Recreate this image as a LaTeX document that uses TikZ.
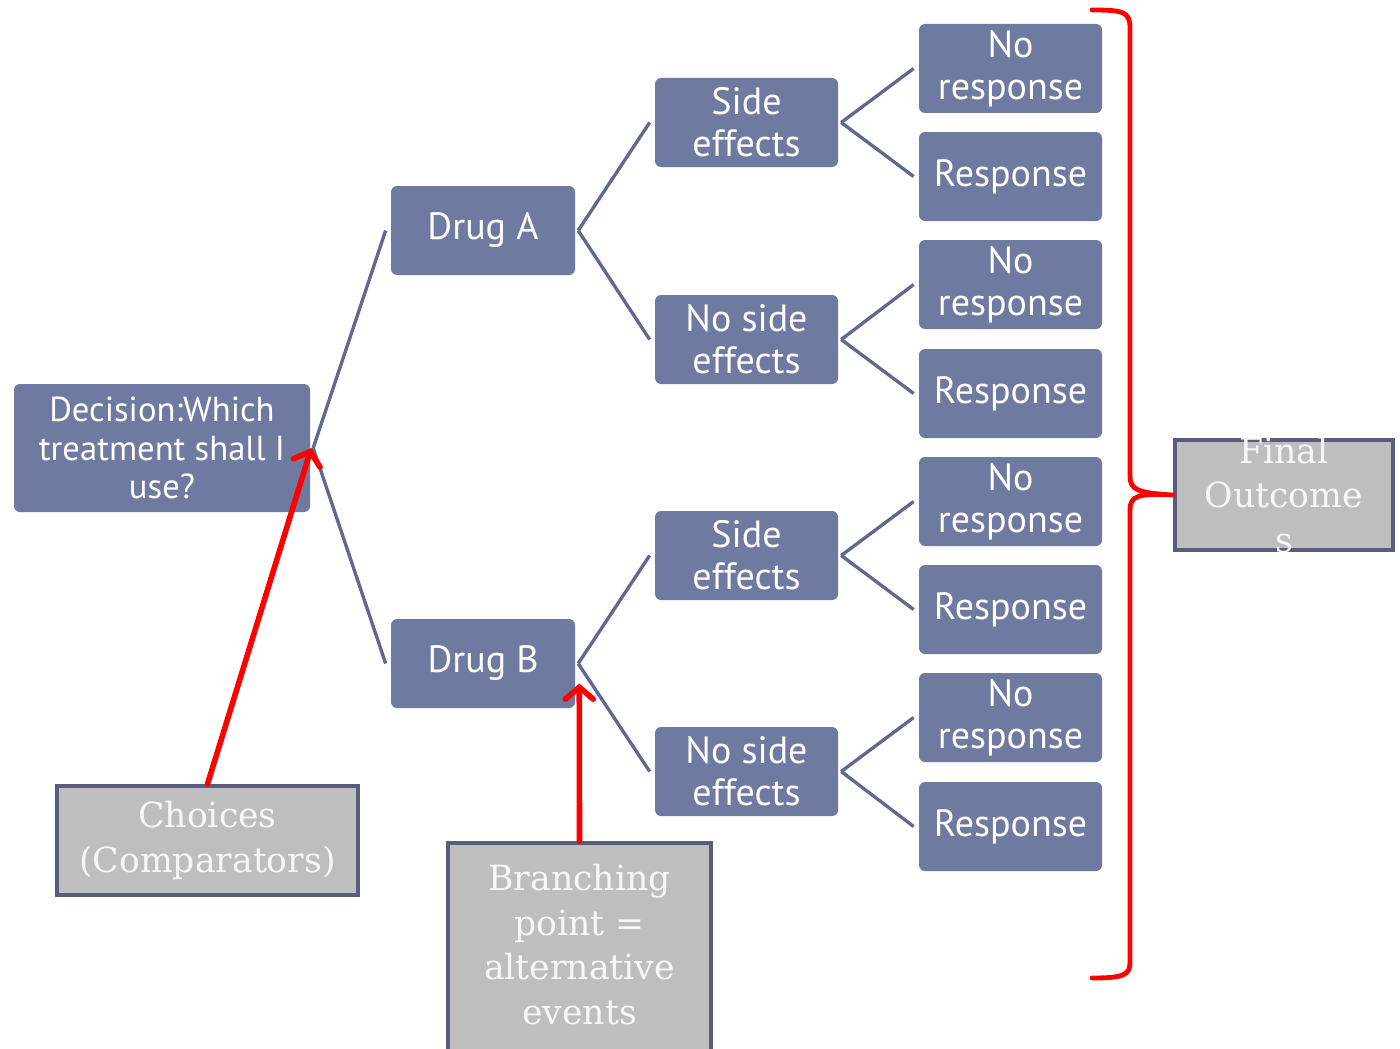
\documentclass[tikz,border=0pt]{standalone}
\usepackage{fontspec}
\setmainfont{DejaVu Serif}
\newfontfamily\boxfont{PT Sans}
\usetikzlibrary{arrows.meta}
\definecolor{slate}{HTML}{6F7AA0}
\definecolor{slateline}{HTML}{5F6890}
\definecolor{greyfill}{HTML}{BEBEBE}
\definecolor{greyedge}{HTML}{565D7D}
\definecolor{signalred}{HTML}{FF0000}
\tikzset{
  blk/.style={rectangle, rounded corners=4.5pt, fill=slate, text=white,
    align=center, inner sep=0pt, minimum width=137.25pt, minimum height=66.75pt,
    font=\boxfont\fontsize{28.5}{31.5}\selectfont},
  gbox/.style={rectangle, fill=greyfill, draw=greyedge, line width=2.8pt,
    inner sep=0pt},
  gtext/.style={text=white!97!black, align=center, inner sep=0pt,
    font=\fontsize{26}{33.5}\selectfont},
  link/.style={draw=slateline, line width=2.5pt},
  pointer/.style={draw=signalred, line width=4.2pt, line cap=round,
    -{Straight Barb[length=9pt,width=21pt,line cap=round]}},
}
\begin{document}
\begin{tikzpicture}[x=0.75pt,y=-0.75pt]
\useasboundingbox (0,0) rectangle (1400,1049);

% decision and the two drugs
\node[blk, minimum width=222pt, minimum height=96pt,
      font=\boxfont\fontsize{26}{29}\selectfont] (dec) at (162,448)
  {Decision:Which\\treatment shall I\\use?};
\node[blk, minimum width=138pt] (da) at (483,230.5) {Drug A};
\node[blk, minimum width=138pt] (db) at (483,663.5) {Drug B};

% side effect branches
\node[blk] (sa) at (746.5,122.5) {Side\\effects};
\node[blk] (na) at (746.5,339.5) {No side\\effects};
\node[blk] (sb) at (746.5,555.5) {Side\\effects};
\node[blk] (nb) at (746.5,771.5) {No side\\effects};

% outcomes
\node[blk] (o1) at (1010.5,68.5) {No\\response};
\node[blk] (o2) at (1010.5,176.5) {Response};
\node[blk] (o3) at (1010.5,284.5) {No\\response};
\node[blk] (o4) at (1010.5,393.5) {Response};
\node[blk] (o5) at (1010.5,501.5) {No\\response};
\node[blk] (o6) at (1010.5,609.5) {Response};
\node[blk] (o7) at (1010.5,717.5) {No\\response};
\node[blk] (o8) at (1010.5,826.5) {Response};

% tree connectors
\foreach \p/\c in {dec/da, dec/db, da/sa, da/na, db/sb, db/nb,
                   sa/o1, sa/o2, na/o3, na/o4, sb/o5, sb/o6, nb/o7, nb/o8}
  \draw[link] ([xshift=2.2pt]\p.east) -- ([xshift=-3.8pt]\c.west);

% annotation boxes
\node[gbox, minimum width=225.75pt, minimum height=81.75pt] (ch) at (207.5,840.5) {};
\node[gtext] at (ch.center) {Choices\\(Comparators)};

\node[gbox, minimum width=197.25pt, minimum height=163pt] (br) at (579.5,951.5) {};
\node[gtext, anchor=north] at (579.5,864) {Branching\\point =\\alternative\\events};

\node[gbox, minimum width=163.5pt, minimum height=82.5pt] (fo) at (1284,495) {};
\node[gtext] at (fo.center) {Final\\Outcome\\s};

% red pointers
\coordinate (decfork) at ([xshift=0.8pt]dec.east);
\coordinate (dbfork) at ([xshift=3pt,yshift=-15pt]db.east);
\draw[pointer] (ch.north) -- (decfork);
\draw[pointer] (br.north) -- (dbfork);

% brace around the outcomes
\coordinate (tip) at (fo.west);
\draw[signalred, line width=3.6pt, line cap=round]
  (1092,10) .. controls (1124,10) and (1130,12) .. (1130,28)
  -- (1130,476) .. controls (1130,490) and (1138,493) .. (tip)
  (tip) .. controls (1138,493) and (1130,496) .. (1130,510)
  -- (1130,962) .. controls (1130,975) and (1124,978) .. (1092,978);
\end{tikzpicture}
\end{document}
